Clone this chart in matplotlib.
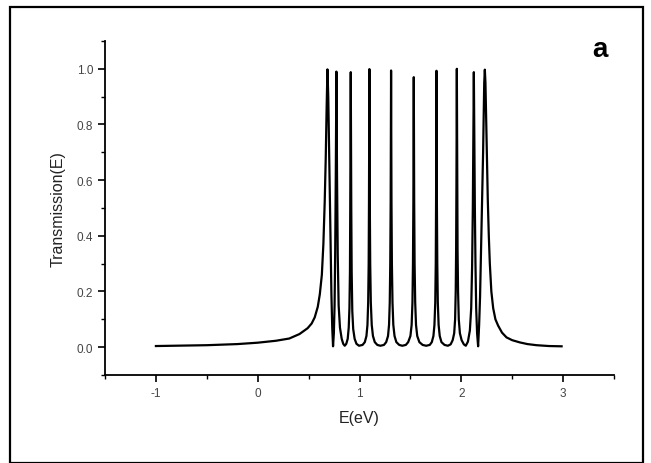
import numpy as np
import matplotlib
matplotlib.use("Agg")
import matplotlib.pyplot as plt
from matplotlib.patches import Rectangle
from matplotlib.ticker import MultipleLocator

energy = [
    -1.00, -0.50, -0.20, 0.00, 0.18, 0.31, 0.41, 0.49, 0.53, 0.56, 0.59, 0.61, 0.63,
    0.645, 0.658, 0.668, 0.677, 0.685, 0.693, 0.700, 0.708, 0.716, 0.724, 0.732, 0.740,
    0.748, 0.755, 0.761, 0.767, 0.773, 0.779, 0.786, 0.795, 0.808, 0.825, 0.840, 0.855,
    0.870, 0.884, 0.894, 0.901, 0.906, 0.909, 0.914, 0.919, 0.923, 0.929, 0.938, 0.952, 0.970, 0.995,
    1.030, 1.052, 1.068, 1.078, 1.085, 1.090, 1.093, 1.097, 1.101, 1.105, 1.111, 1.120, 1.132, 1.150, 1.175, 1.205,
    1.240, 1.262, 1.280, 1.290, 1.297, 1.302, 1.306, 1.310, 1.314, 1.318, 1.324, 1.332, 1.344, 1.362, 1.390, 1.420,
    1.455, 1.478, 1.500, 1.512, 1.520, 1.525, 1.529, 1.533, 1.537, 1.541, 1.547, 1.555, 1.567, 1.588, 1.620, 1.655,
    1.690, 1.710, 1.726, 1.736, 1.744, 1.749, 1.752, 1.756, 1.760, 1.764, 1.769, 1.777, 1.788, 1.805, 1.835, 1.868,
    1.895, 1.915, 1.930, 1.939, 1.945, 1.949, 1.952, 1.956, 1.960, 1.963, 1.968, 1.975, 1.986, 2.003, 2.025, 2.044,
    2.065, 2.084, 2.097, 2.106, 2.113, 2.118, 2.123, 2.128, 2.133, 2.139, 2.146, 2.155, 2.165,
    2.175, 2.184, 2.192, 2.200, 2.208, 2.214, 2.220, 2.225, 2.231, 2.237, 2.243, 2.251, 2.260, 2.270,
    2.280, 2.295, 2.313, 2.335, 2.362, 2.400, 2.444, 2.500, 2.575, 2.650, 2.739, 2.860, 2.985,
]
transmission = [
    0.004, 0.007, 0.011, 0.016, 0.023, 0.031, 0.047, 0.068, 0.085, 0.107, 0.145, 0.190, 0.260,
    0.370, 0.520, 0.676, 0.860, 0.998, 0.900, 0.750, 0.556, 0.360, 0.190, 0.070, 0.003,
    0.050, 0.150, 0.340, 0.620, 0.990, 0.620, 0.330, 0.150, 0.070, 0.030, 0.012, 0.005,
    0.012, 0.030, 0.070, 0.140, 0.270, 0.500, 0.988, 0.500, 0.270, 0.130, 0.065, 0.030, 0.012, 0.005,
    0.008, 0.018, 0.040, 0.080, 0.160, 0.300, 0.520, 0.999, 0.520, 0.300, 0.160, 0.080, 0.040, 0.018, 0.008, 0.005,
    0.008, 0.018, 0.040, 0.080, 0.160, 0.300, 0.520, 0.994, 0.520, 0.300, 0.160, 0.080, 0.040, 0.018, 0.008, 0.005,
    0.008, 0.018, 0.040, 0.080, 0.160, 0.300, 0.520, 0.970, 0.520, 0.300, 0.160, 0.080, 0.040, 0.018, 0.008, 0.005,
    0.008, 0.018, 0.040, 0.080, 0.160, 0.300, 0.520, 0.993, 0.520, 0.300, 0.160, 0.080, 0.040, 0.018, 0.008, 0.005,
    0.010, 0.025, 0.050, 0.100, 0.200, 0.350, 0.580, 1.000, 0.580, 0.350, 0.200, 0.100, 0.050, 0.025, 0.010, 0.005,
    0.020, 0.060, 0.140, 0.290, 0.500, 0.750, 0.988, 0.750, 0.500, 0.300, 0.140, 0.050, 0.003,
    0.080, 0.180, 0.316, 0.450, 0.580, 0.700, 0.840, 0.950, 0.997, 0.950, 0.840, 0.676, 0.530, 0.400,
    0.300, 0.200, 0.140, 0.100, 0.077, 0.052, 0.035, 0.025, 0.017, 0.011, 0.007, 0.004, 0.003,
]

x_ticks = [-1, 0, 1, 2, 3]
y_ticks = [0.0, 0.2, 0.4, 0.6, 0.8, 1.0]

plt.rcParams['font.family'] = ['Liberation Sans', 'DejaVu Sans']
plt.rcParams['axes.unicode_minus'] = False

fig = plt.figure(figsize=(6.51, 4.64), dpi=100)
ax = fig.add_axes([0.1613, 0.1897, 0.7819, 0.7198])

ax.plot(energy, transmission, color='black', lw=1.6)

ax.set_xlim(-1.5, 3.5)
ax.set_ylim(-0.1, 1.1)
ax.set_xticks(x_ticks)
ax.set_yticks(y_ticks)
ax.set_yticklabels(['%.1f' % v for v in y_ticks])
ax.xaxis.set_minor_locator(MultipleLocator(0.5))
ax.yaxis.set_minor_locator(MultipleLocator(0.1))

for s in ['top', 'right']:
    ax.spines[s].set_visible(False)
for s in ['left', 'bottom']:
    ax.spines[s].set_linewidth(1.3)

ax.tick_params(which='major', direction='out', length=5, width=1.2,
               labelsize=8.5, labelcolor='#444444', pad=3.5)
ax.tick_params(which='minor', direction='out', length=3, width=1.0)

ax.set_xlabel('E(eV)', fontsize=11.5, color='#222222', labelpad=8)
ax.set_ylabel('Transmission(E)', fontsize=11.5, color='#222222', labelpad=8)

fig.text(0.922, 0.893, 'a', fontsize=20, fontweight='bold', ha='center', va='center')

# frame around the whole figure
fig.patches.append(Rectangle((0.016, 0.0), 0.971, 0.983, transform=fig.transFigure,
                             fill=False, edgecolor='black', lw=1.6))

fig.savefig('out.png', dpi=100)
